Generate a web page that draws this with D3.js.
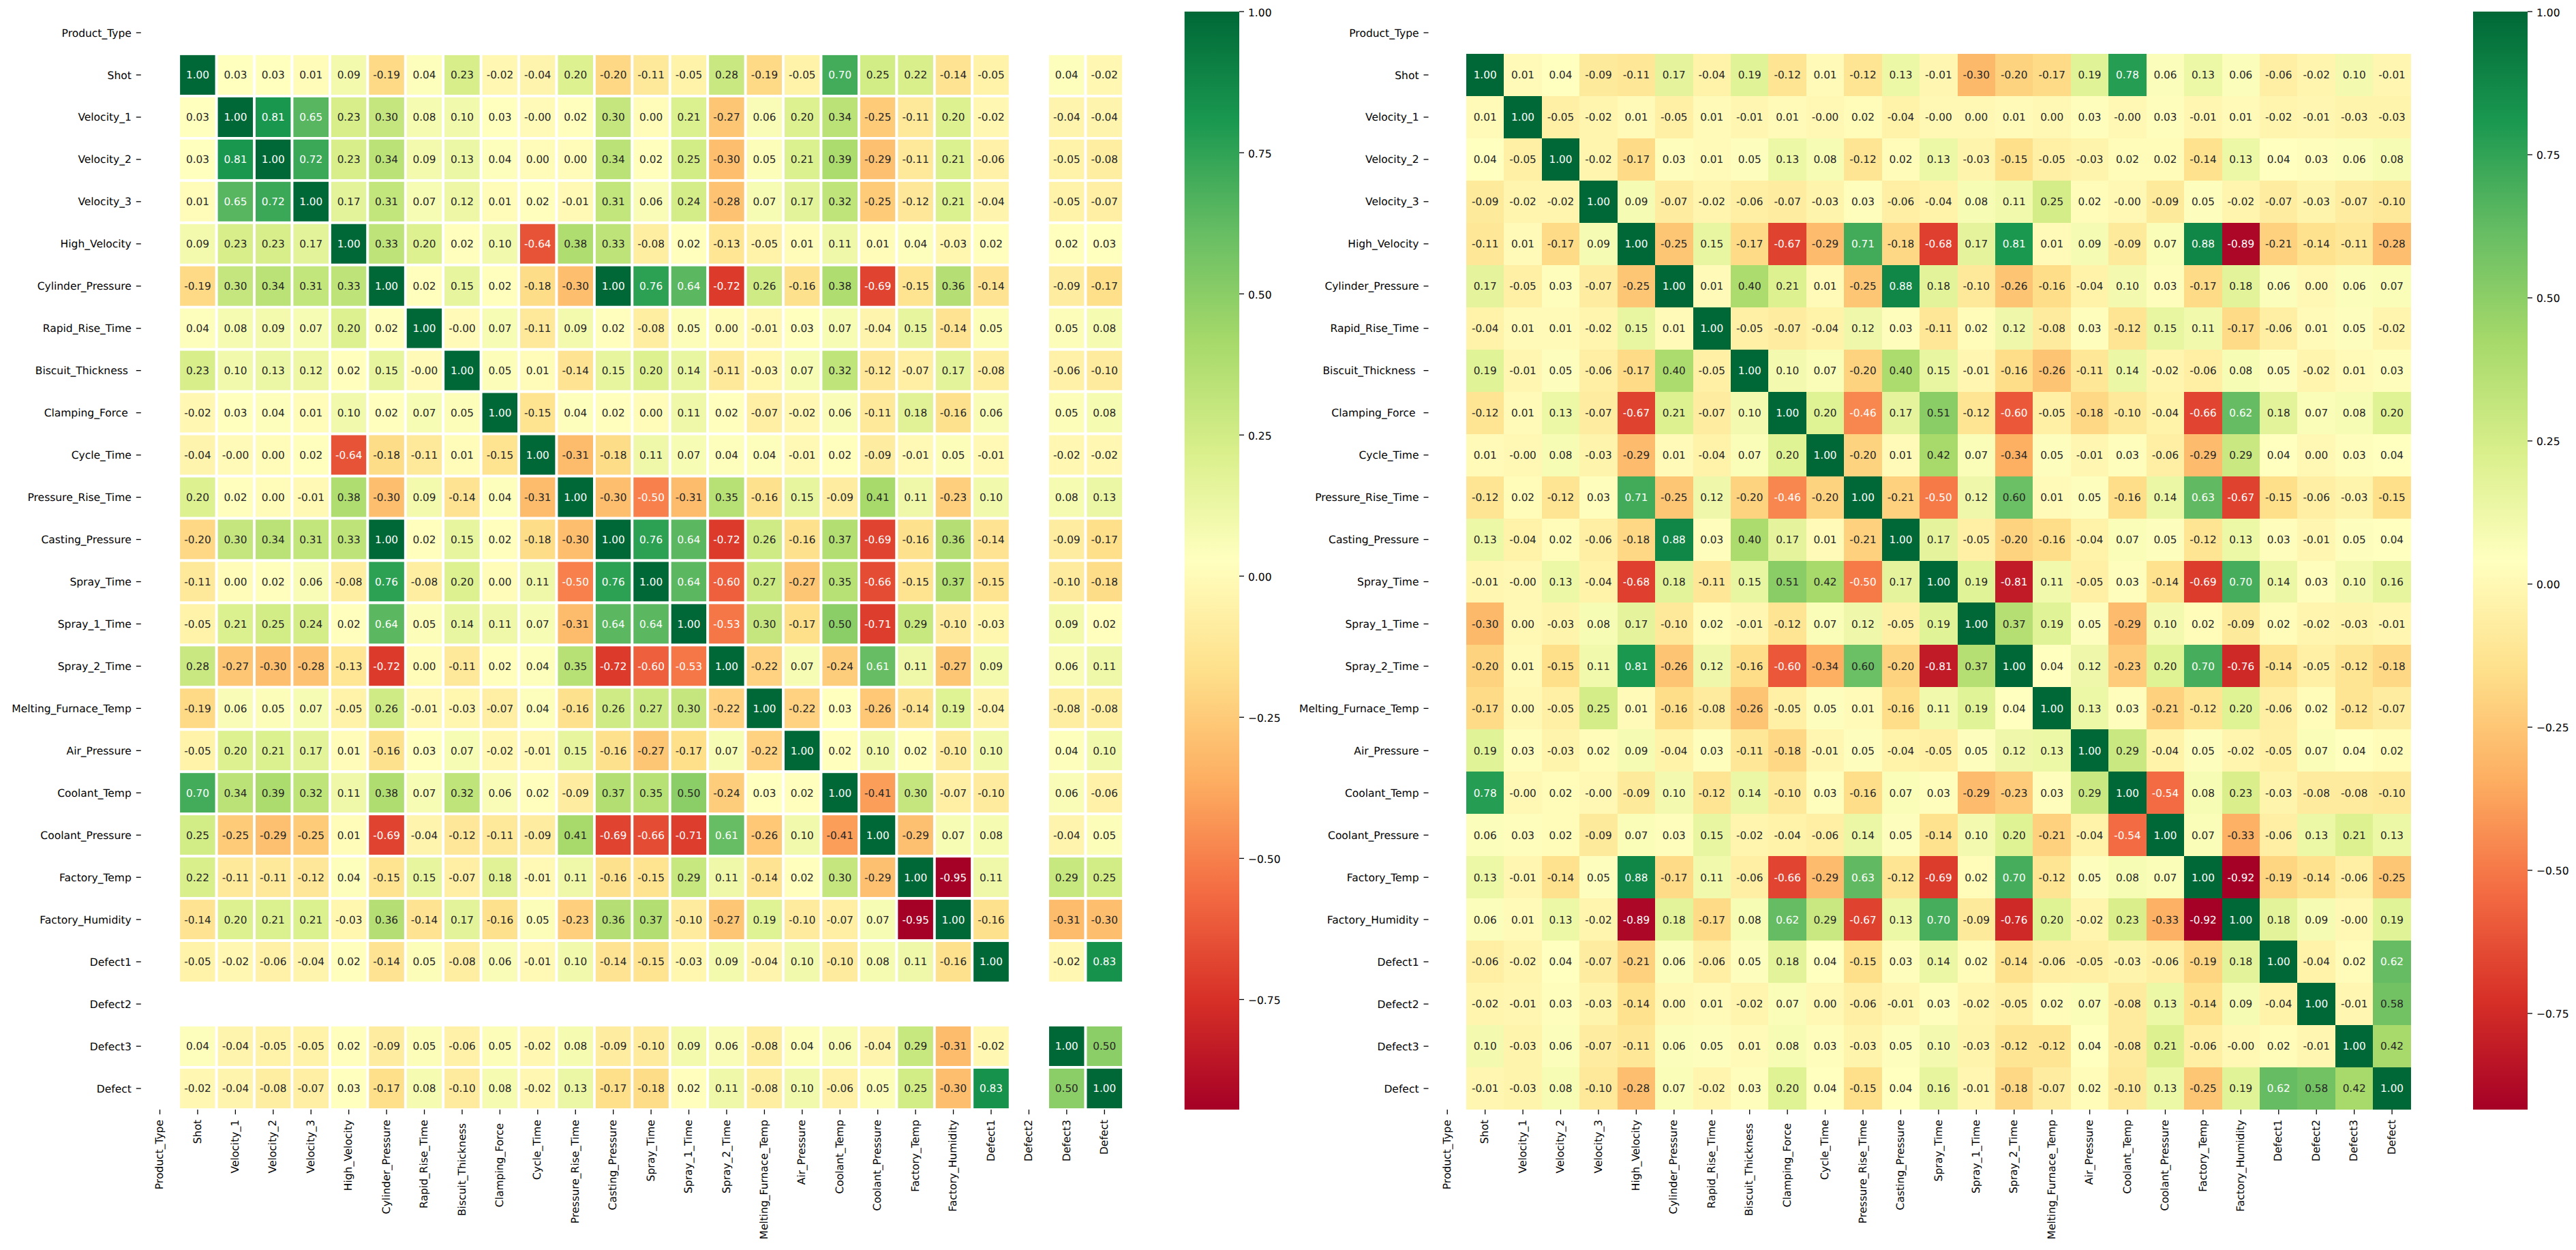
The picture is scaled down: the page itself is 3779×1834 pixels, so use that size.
<!DOCTYPE html>
<html>
<head>
<meta charset="utf-8">
<title>Correlation heatmaps</title>
<script src="https://cdnjs.cloudflare.com/ajax/libs/d3/7.8.5/d3.min.js"></script>
<style>
  html, body { margin: 0; padding: 0; background: #fff; }
  svg { display: block; }
  text { font-family: "DejaVu Sans", sans-serif; white-space: pre; text-rendering: geometricPrecision; }
</style>
</head>
<body>
<svg id="chart"></svg>
<script>
//======
// Data
//======

var features = ['Product_Type', 'Shot', 'Velocity_1', 'Velocity_2', 'Velocity_3', 'High_Velocity',
  'Cylinder_Pressure', 'Rapid_Rise_Time', 'Biscuit_Thickness ', 'Clamping_Force ', 'Cycle_Time',
  'Pressure_Rise_Time', 'Casting_Pressure', 'Spray_Time', 'Spray_1_Time', 'Spray_2_Time',
  'Melting_Furnace_Temp', 'Air_Pressure', 'Coolant_Temp', 'Coolant_Pressure', 'Factory_Temp',
  'Factory_Humidity', 'Defect1', 'Defect2', 'Defect3', 'Defect'];

var colorbarTicks = [-0.75, -0.5, -0.25, 0, 0.25, 0.5, 0.75, 1];

// RdYlGn, the 11 brewer colours
var rdYlGn = ['#a50026', '#d73027', '#f46d43', '#fdae61', '#fee08b', '#ffffbf',
  '#d9ef8b', '#a6d96a', '#66bd63', '#1a9850', '#006837'];

// -0.001 stands for the cells printed as -0.00
var n = null, z = -0.001;

var leftMin = -0.945, rightMin = -0.918;

var leftCorr = [
  [n,n,n,n,n,n,n,n,n,n,n,n,n,n,n,n,n,n,n,n,n,n,n,n,n,n],
  [n,1,.03,.03,.01,.09,-.19,.04,.23,-.02,-.04,.20,-.20,-.11,-.05,.28,-.19,-.05,.70,.25,.22,-.14,-.05,n,.04,-.02],
  [n,.03,1,.81,.65,.23,.30,.08,.10,.03,z,.02,.30,0,.21,-.27,.06,.20,.34,-.25,-.11,.20,-.02,n,-.04,-.04],
  [n,.03,.81,1,.72,.23,.34,.09,.13,.04,0,0,.34,.02,.25,-.30,.05,.21,.39,-.29,-.11,.21,-.06,n,-.05,-.08],
  [n,.01,.65,.72,1,.17,.31,.07,.12,.01,.02,-.01,.31,.06,.24,-.28,.07,.17,.32,-.25,-.12,.21,-.04,n,-.05,-.07],
  [n,.09,.23,.23,.17,1,.33,.20,.02,.10,-.64,.38,.33,-.08,.02,-.13,-.05,.01,.11,.01,.04,-.03,.02,n,.02,.03],
  [n,-.19,.30,.34,.31,.33,1,.02,.15,.02,-.18,-.30,1,.76,.64,-.72,.26,-.16,.38,-.69,-.15,.36,-.14,n,-.09,-.17],
  [n,.04,.08,.09,.07,.20,.02,1,z,.07,-.11,.09,.02,-.08,.05,0,-.01,.03,.07,-.04,.15,-.14,.05,n,.05,.08],
  [n,.23,.10,.13,.12,.02,.15,z,1,.05,.01,-.14,.15,.20,.14,-.11,-.03,.07,.32,-.12,-.07,.17,-.08,n,-.06,-.10],
  [n,-.02,.03,.04,.01,.10,.02,.07,.05,1,-.15,.04,.02,0,.11,.02,-.07,-.02,.06,-.11,.18,-.16,.06,n,.05,.08],
  [n,-.04,z,0,.02,-.64,-.18,-.11,.01,-.15,1,-.31,-.18,.11,.07,.04,.04,-.01,.02,-.09,-.01,.05,-.01,n,-.02,-.02],
  [n,.20,.02,0,-.01,.38,-.30,.09,-.14,.04,-.31,1,-.30,-.50,-.31,.35,-.16,.15,-.09,.41,.11,-.23,.10,n,.08,.13],
  [n,-.20,.30,.34,.31,.33,1,.02,.15,.02,-.18,-.30,1,.76,.64,-.72,.26,-.16,.37,-.69,-.16,.36,-.14,n,-.09,-.17],
  [n,-.11,0,.02,.06,-.08,.76,-.08,.20,0,.11,-.50,.76,1,.64,-.60,.27,-.27,.35,-.66,-.15,.37,-.15,n,-.10,-.18],
  [n,-.05,.21,.25,.24,.02,.64,.05,.14,.11,.07,-.31,.64,.64,1,-.53,.30,-.17,.50,-.71,.29,-.10,-.03,n,.09,.02],
  [n,.28,-.27,-.30,-.28,-.13,-.72,0,-.11,.02,.04,.35,-.72,-.60,-.53,1,-.22,.07,-.24,.61,.11,-.27,.09,n,.06,.11],
  [n,-.19,.06,.05,.07,-.05,.26,-.01,-.03,-.07,.04,-.16,.26,.27,.30,-.22,1,-.22,.03,-.26,-.14,.19,-.04,n,-.08,-.08],
  [n,-.05,.20,.21,.17,.01,-.16,.03,.07,-.02,-.01,.15,-.16,-.27,-.17,.07,-.22,1,.02,.10,.02,-.10,.10,n,.04,.10],
  [n,.70,.34,.39,.32,.11,.38,.07,.32,.06,.02,-.09,.37,.35,.50,-.24,.03,.02,1,-.41,.30,-.07,-.10,n,.06,-.06],
  [n,.25,-.25,-.29,-.25,.01,-.69,-.04,-.12,-.11,-.09,.41,-.69,-.66,-.71,.61,-.26,.10,-.41,1,-.29,.07,.08,n,-.04,.05],
  [n,.22,-.11,-.11,-.12,.04,-.15,.15,-.07,.18,-.01,.11,-.16,-.15,.29,.11,-.14,.02,.30,-.29,1,-.95,.11,n,.29,.25],
  [n,-.14,.20,.21,.21,-.03,.36,-.14,.17,-.16,.05,-.23,.36,.37,-.10,-.27,.19,-.10,-.07,.07,-.95,1,-.16,n,-.31,-.30],
  [n,-.05,-.02,-.06,-.04,.02,-.14,.05,-.08,.06,-.01,.10,-.14,-.15,-.03,.09,-.04,.10,-.10,.08,.11,-.16,1,n,-.02,.83],
  [n,n,n,n,n,n,n,n,n,n,n,n,n,n,n,n,n,n,n,n,n,n,n,n,n,n],
  [n,.04,-.04,-.05,-.05,.02,-.09,.05,-.06,.05,-.02,.08,-.09,-.10,.09,.06,-.08,.04,.06,-.04,.29,-.31,-.02,n,1,.50],
  [n,-.02,-.04,-.08,-.07,.03,-.17,.08,-.10,.08,-.02,.13,-.17,-.18,.02,.11,-.08,.10,-.06,.05,.25,-.30,.83,n,.50,1]
];

var rightCorr = [
  [n,n,n,n,n,n,n,n,n,n,n,n,n,n,n,n,n,n,n,n,n,n,n,n,n,n],
  [n,1,.01,.04,-.09,-.11,.17,-.04,.19,-.12,.01,-.12,.13,-.01,-.30,-.20,-.17,.19,.78,.06,.13,.06,-.06,-.02,.10,-.01],
  [n,.01,1,-.05,-.02,.01,-.05,.01,-.01,.01,z,.02,-.04,z,0,.01,0,.03,z,.03,-.01,.01,-.02,-.01,-.03,-.03],
  [n,.04,-.05,1,-.02,-.17,.03,.01,.05,.13,.08,-.12,.02,.13,-.03,-.15,-.05,-.03,.02,.02,-.14,.13,.04,.03,.06,.08],
  [n,-.09,-.02,-.02,1,.09,-.07,-.02,-.06,-.07,-.03,.03,-.06,-.04,.08,.11,.25,.02,z,-.09,.05,-.02,-.07,-.03,-.07,-.10],
  [n,-.11,.01,-.17,.09,1,-.25,.15,-.17,-.67,-.29,.71,-.18,-.68,.17,.81,.01,.09,-.09,.07,.88,-.89,-.21,-.14,-.11,-.28],
  [n,.17,-.05,.03,-.07,-.25,1,.01,.40,.21,.01,-.25,.88,.18,-.10,-.26,-.16,-.04,.10,.03,-.17,.18,.06,0,.06,.07],
  [n,-.04,.01,.01,-.02,.15,.01,1,-.05,-.07,-.04,.12,.03,-.11,.02,.12,-.08,.03,-.12,.15,.11,-.17,-.06,.01,.05,-.02],
  [n,.19,-.01,.05,-.06,-.17,.40,-.05,1,.10,.07,-.20,.40,.15,-.01,-.16,-.26,-.11,.14,-.02,-.06,.08,.05,-.02,.01,.03],
  [n,-.12,.01,.13,-.07,-.67,.21,-.07,.10,1,.20,-.46,.17,.51,-.12,-.60,-.05,-.18,-.10,-.04,-.66,.62,.18,.07,.08,.20],
  [n,.01,z,.08,-.03,-.29,.01,-.04,.07,.20,1,-.20,.01,.42,.07,-.34,.05,-.01,.03,-.06,-.29,.29,.04,0,.03,.04],
  [n,-.12,.02,-.12,.03,.71,-.25,.12,-.20,-.46,-.20,1,-.21,-.50,.12,.60,.01,.05,-.16,.14,.63,-.67,-.15,-.06,-.03,-.15],
  [n,.13,-.04,.02,-.06,-.18,.88,.03,.40,.17,.01,-.21,1,.17,-.05,-.20,-.16,-.04,.07,.05,-.12,.13,.03,-.01,.05,.04],
  [n,-.01,z,.13,-.04,-.68,.18,-.11,.15,.51,.42,-.50,.17,1,.19,-.81,.11,-.05,.03,-.14,-.69,.70,.14,.03,.10,.16],
  [n,-.30,0,-.03,.08,.17,-.10,.02,-.01,-.12,.07,.12,-.05,.19,1,.37,.19,.05,-.29,.10,.02,-.09,.02,-.02,-.03,-.01],
  [n,-.20,.01,-.15,.11,.81,-.26,.12,-.16,-.60,-.34,.60,-.20,-.81,.37,1,.04,.12,-.23,.20,.70,-.76,-.14,-.05,-.12,-.18],
  [n,-.17,0,-.05,.25,.01,-.16,-.08,-.26,-.05,.05,.01,-.16,.11,.19,.04,1,.13,.03,-.21,-.12,.20,-.06,.02,-.12,-.07],
  [n,.19,.03,-.03,.02,.09,-.04,.03,-.11,-.18,-.01,.05,-.04,-.05,.05,.12,.13,1,.29,-.04,.05,-.02,-.05,.07,.04,.02],
  [n,.78,z,.02,z,-.09,.10,-.12,.14,-.10,.03,-.16,.07,.03,-.29,-.23,.03,.29,1,-.54,.08,.23,-.03,-.08,-.08,-.10],
  [n,.06,.03,.02,-.09,.07,.03,.15,-.02,-.04,-.06,.14,.05,-.14,.10,.20,-.21,-.04,-.54,1,.07,-.33,-.06,.13,.21,.13],
  [n,.13,-.01,-.14,.05,.88,-.17,.11,-.06,-.66,-.29,.63,-.12,-.69,.02,.70,-.12,.05,.08,.07,1,-.92,-.19,-.14,-.06,-.25],
  [n,.06,.01,.13,-.02,-.89,.18,-.17,.08,.62,.29,-.67,.13,.70,-.09,-.76,.20,-.02,.23,-.33,-.92,1,.18,.09,z,.19],
  [n,-.06,-.02,.04,-.07,-.21,.06,-.06,.05,.18,.04,-.15,.03,.14,.02,-.14,-.06,-.05,-.03,-.06,-.19,.18,1,-.04,.02,.62],
  [n,-.02,-.01,.03,-.03,-.14,0,.01,-.02,.07,0,-.06,-.01,.03,-.02,-.05,.02,.07,-.08,.13,-.14,.09,-.04,1,-.01,.58],
  [n,.10,-.03,.06,-.07,-.11,.06,.05,.01,.08,.03,-.03,.05,.10,-.03,-.12,-.12,.04,-.08,.21,-.06,z,.02,-.01,1,.42],
  [n,-.01,-.03,.08,-.10,-.28,.07,-.02,.03,.20,.04,-.15,.04,.16,-.01,-.18,-.07,.02,-.10,.13,-.25,.19,.62,.58,.42,1]
];

//=======
// Chart
//=======

var width = 3779,
  height = 1834,
  plotTop = 17,
  plotBottom = 1628,
  annotSize = 15.28,
  labelSize = 15.5,
  tickLen = 7,
  tickPad = 7;

var svg = d3.select('#chart')
  .attr('width', width)
  .attr('height', height)
  .attr('viewBox', '0 0 ' + width + ' ' + height);

// same rule seaborn uses to pick the annotation colour
function annotColor(fill) {
  var c = d3.rgb(fill);
  var lin = [c.r, c.g, c.b].map(function(v) {
    v = v / 255;
    return v <= 0.03928 ? v / 12.92 : Math.pow((v + 0.055) / 1.055, 2.4);
  });
  var lum = 0.2126 * lin[0] + 0.7152 * lin[1] + 0.0722 * lin[2];
  return lum > 0.408 ? '#262626' : '#ffffff';
}

function drawHeatmap(opts, id) {
  var matrix = opts.matrix;
  var vmin = opts.vmin, vmax = 1;

  var stops = rdYlGn.map(function(c, i) {
    return vmin + (vmax - vmin) * i / (rdYlGn.length - 1);
  });
  var color = d3.scaleLinear().domain(stops).range(rdYlGn).clamp(true);

  var x = d3.scaleBand().domain(features).range([opts.left, opts.right]);
  var y = d3.scaleBand().domain(features).range([plotTop, plotBottom]);

  var cells = [];
  matrix.forEach(function(row, i) {
    row.forEach(function(v, j) {
      if (v !== null) cells.push({ row: features[i], col: features[j], value: v });
    });
  });

  var g = svg.append('g').attr('class', 'heatmap');

  g.append('g').selectAll('rect')
    .data(cells)
    .enter()
    .append('rect')
    .attr('x', function(d) { return x(d.col); })
    .attr('y', function(d) { return y(d.row); })
    .attr('width', x.bandwidth())
    .attr('height', y.bandwidth())
    .attr('fill', function(d) { return color(d.value); })
    .attr('stroke', opts.gap ? '#fff' : 'none')
    .attr('stroke-width', opts.gap)
    .attr('shape-rendering', opts.gap ? 'auto' : 'crispEdges');

  g.append('g').selectAll('text')
    .data(cells)
    .enter()
    .append('text')
    .attr('x', function(d) { return x(d.col) + x.bandwidth() / 2; })
    .attr('y', function(d) { return y(d.row) + y.bandwidth() / 2; })
    .attr('dy', '0.35em')
    .attr('text-anchor', 'middle')
    .attr('font-size', annotSize)
    .attr('fill', function(d) { return annotColor(color(d.value)); })
    .text(function(d) { return d.value.toFixed(2); });

  // Y-Axis
  var yAxis = g.append('g')
    .attr('transform', 'translate(' + opts.left + ',0)')
    .call(d3.axisLeft(y).tickSize(tickLen).tickPadding(tickPad).offset(0));

  // X-Axis
  var xAxis = g.append('g')
    .attr('transform', 'translate(0,' + plotBottom + ')')
    .call(d3.axisBottom(x).tickSize(tickLen).tickPadding(tickPad).offset(0));

  xAxis.selectAll('text')
    .attr('transform', 'rotate(-90)')
    .attr('x', -(tickLen + tickPad + 1))
    .attr('y', 0)
    .attr('dy', '0.3em')
    .style('text-anchor', 'end');

  yAxis.selectAll('text').attr('dy', '0.36em');

  // Colorbar
  var cbar = d3.scaleLinear().domain([vmin, vmax]).range([plotBottom, plotTop]);

  var grad = svg.append('defs').append('linearGradient')
    .attr('id', id)
    .attr('x1', 0).attr('y1', 1)
    .attr('x2', 0).attr('y2', 0);

  grad.selectAll('stop')
    .data(stops)
    .enter()
    .append('stop')
    .attr('offset', function(d, i) { return i / (stops.length - 1); })
    .attr('stop-color', function(d) { return color(d); });

  g.append('rect')
    .attr('x', opts.barLeft)
    .attr('y', plotTop)
    .attr('width', opts.barRight - opts.barLeft)
    .attr('height', plotBottom - plotTop)
    .attr('fill', 'url(#' + id + ')');

  var barAxis = g.append('g')
    .attr('transform', 'translate(' + opts.barRight + ',0)')
    .call(d3.axisRight(cbar)
      .tickValues(colorbarTicks)
      .tickFormat(d3.format('.2f'))
      .tickSize(tickLen)
      .tickPadding(tickPad - 1)
      .offset(0));

  barAxis.selectAll('text').attr('dy', '0.42em');

  [yAxis, xAxis, barAxis].forEach(function(a) {
    a.attr('font-family', null).attr('font-size', labelSize);
    a.select('.domain').remove();
    a.selectAll('line').attr('stroke', '#000').attr('stroke-width', 1.3);
    a.selectAll('text').attr('fill', '#000');
  });
}

drawHeatmap({ matrix: leftCorr, vmin: leftMin, left: 206.8, right: 1648, gap: 3.8, barLeft: 1737.7, barRight: 1818 }, 'cbarLeft');
drawHeatmap({ matrix: rightCorr, vmin: rightMin, left: 2095.5, right: 3536.8, gap: 0, barLeft: 3628, barRight: 3708 }, 'cbarRight');
</script>
</body>
</html>
